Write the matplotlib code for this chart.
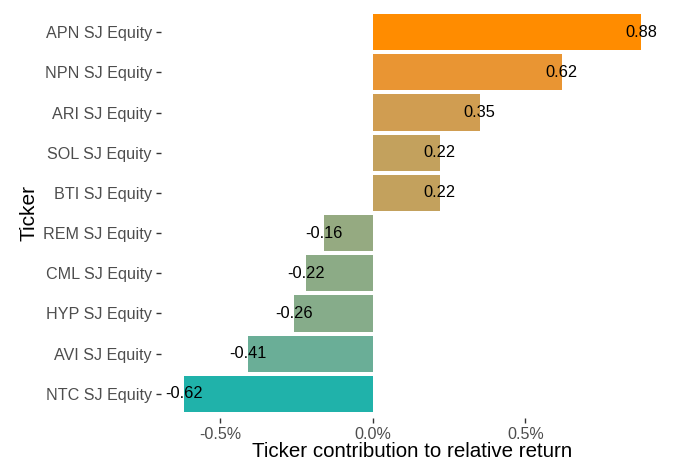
import numpy as np
import matplotlib
matplotlib.use("Agg")
import matplotlib.pyplot as plt
from matplotlib.ticker import FuncFormatter

tickers = ["APN SJ Equity", "NPN SJ Equity", "ARI SJ Equity", "SOL SJ Equity",
           "BTI SJ Equity", "REM SJ Equity", "CML SJ Equity", "HYP SJ Equity",
           "AVI SJ Equity", "NTC SJ Equity"]
values = [0.88, 0.62, 0.35, 0.22, 0.22, -0.16, -0.22, -0.26, -0.41, -0.62]
xticks = [-0.5, 0.0, 0.5]

low_hex, high_hex = "#20B2AA", "#FF8C00"


def hex2rgb(h):
    return np.array([int(h[i:i + 2], 16) / 255 for i in (1, 3, 5)])


def srgb2lab(c):
    c = np.where(c > 0.04045, ((c + 0.055) / 1.055) ** 2.4, c / 12.92)
    M = np.array([[0.4124, 0.3576, 0.1805], [0.2126, 0.7152, 0.0722], [0.0193, 0.1192, 0.9505]])
    xyz = M @ c / np.array([0.95047, 1.0, 1.08883])
    f = np.where(xyz > 0.008856, np.cbrt(xyz), 7.787 * xyz + 16 / 116)
    return np.array([116 * f[1] - 16, 500 * (f[0] - f[1]), 200 * (f[1] - f[2])])


def lab2srgb(lab):
    L, a, b = lab
    fy = (L + 16) / 116
    fx = fy + a / 500
    fz = fy - b / 200
    f = np.array([fx, fy, fz])
    xyz = np.where(f ** 3 > 0.008856, f ** 3, (f - 16 / 116) / 7.787) * np.array([0.95047, 1.0, 1.08883])
    Minv = np.array([[3.2406, -1.5372, -0.4986], [-0.9689, 1.8758, 0.0415], [0.0557, -0.2040, 1.0570]])
    c = Minv @ xyz
    c = np.where(c > 0.0031308, 1.055 * np.clip(c, 0, None) ** (1 / 2.4) - 0.055, 12.92 * c)
    return np.clip(c, 0, 1)


lab_lo, lab_hi = srgb2lab(hex2rgb(low_hex)), srgb2lab(hex2rgb(high_hex))
vmin, vmax = min(values), max(values)
colors = [lab2srgb(lab_lo + (v - vmin) / (vmax - vmin) * (lab_hi - lab_lo)) for v in values]

plt.rcParams["font.family"] = ["Liberation Sans", "DejaVu Sans"]
fig = plt.figure(figsize=(6.76, 4.61), dpi=100)
ax = fig.add_axes([161 / 676, 1 - 418 / 461, (664 - 161) / 676, (418 - 8) / 461])

y = np.arange(len(tickers))[::-1]
ax.barh(y, values, height=0.9, color=colors)
for yi, v in zip(y, values):
    ax.text(v, yi, f"{v:.2f}", ha="center", va="center", fontsize=11.8, color="black")

rng = vmax - vmin
ax.set_xlim(vmin - 0.05 * rng, vmax + 0.05 * rng)
ax.set_ylim(-0.6, len(tickers) - 1 + 0.6)
ax.set_yticks(y)
ax.set_yticklabels(tickers)
ax.set_xticks(xticks)
ax.xaxis.set_major_formatter(FuncFormatter(lambda v, p: f"{v:.1f}%"))
for s in ax.spines.values():
    s.set_visible(False)
ax.tick_params(axis="both", colors="#333333", labelcolor="#4D4D4D", labelsize=11.6,
               length=3.5, width=1, pad=3)
ax.set_xlabel("Ticker contribution to relative return", fontsize=14.8, color="black", labelpad=0)
ax.set_ylabel("Ticker", fontsize=15, color="black", labelpad=3)

fig.savefig("out.png", dpi=100, facecolor="white")
